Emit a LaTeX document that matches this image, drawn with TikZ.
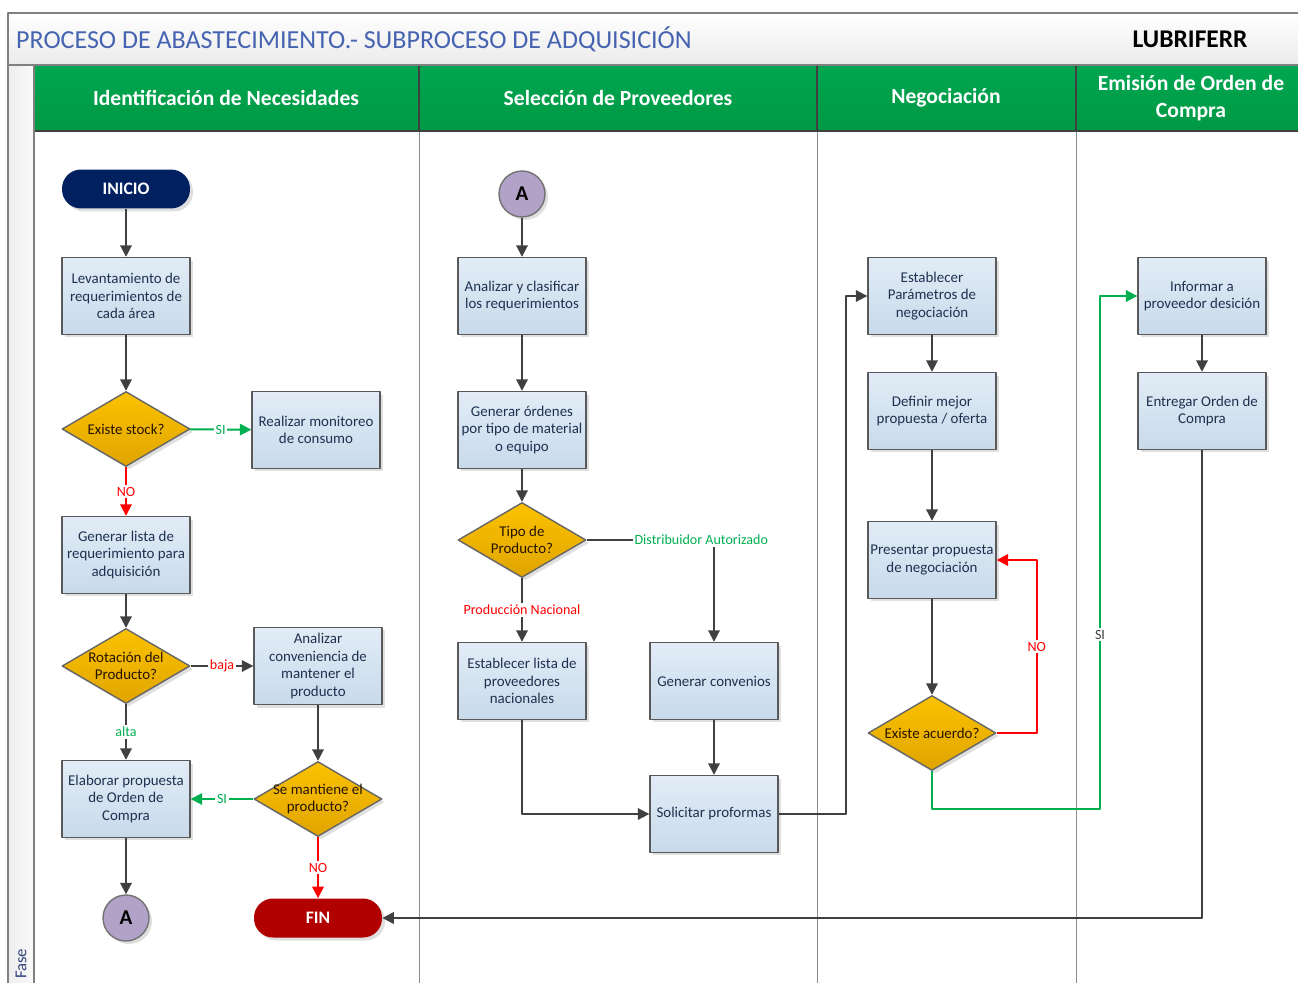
\documentclass[tikz,border=0pt]{standalone}
\usepackage{fontspec}
\setmainfont{Carlito}
\usetikzlibrary{arrows.meta,shapes.geometric,shadows}

\definecolor{verde}{HTML}{00A651}
\definecolor{verdeosc}{HTML}{009944}
\definecolor{azultit}{HTML}{4563B0}
\definecolor{cajaA}{HTML}{E2ECF6}
\definecolor{cajaB}{HTML}{C8DAEB}
\definecolor{rombA}{HTML}{FBC200}
\definecolor{rombB}{HTML}{E0A500}
\definecolor{linea}{HTML}{404040}
\definecolor{txtcaja}{HTML}{1F3150}
\definecolor{si}{HTML}{00B050}
\definecolor{no}{HTML}{FF0000}
\definecolor{inicio}{HTML}{002060}
\definecolor{fin}{HTML}{B00000}
\definecolor{conector}{HTML}{B2A2C8}

\begin{document}
\begin{tikzpicture}[x=0.02cm, y=-0.02cm, line join=round,
    >={Triangle[length=6.5pt,width=6.5pt]},
    sombra/.style={drop shadow={shadow xshift=0.06cm, shadow yshift=-0.06cm, opacity=0.25, fill=gray}},
    caja/.style={rectangle, draw=black!65, line width=0.8pt, top color=cajaA, bottom color=cajaB,
        minimum width=2.56cm, minimum height=1.54cm, inner xsep=1pt, align=center, text=txtcaja,
        font=\fontsize{8.5}{10}\selectfont, sombra},
    rtexto/.style={align=center, inner sep=0pt, text=black!85!orange, font=\fontsize{8.5}{10}\selectfont},
    rombo/.style={diamond, draw=black!60, line width=0.8pt, top color=rombA, bottom color=rombB,
        minimum width=2.56cm, minimum height=1.5cm, inner sep=0pt, sombra,
        label={[rtexto]center:{#1}}},
    term/.style={rectangle, rounded corners=0.38cm, minimum width=2.56cm, minimum height=0.78cm,
        text=white, font=\fontsize{10}{12}\bfseries\selectfont, sombra},
    circA/.style={circle, draw=black!55, line width=0.8pt, fill=conector, minimum size=0.92cm,
        font=\fontsize{12}{12}\bfseries\selectfont, sombra},
    carril/.style={text=white, align=center, font=\fontsize{12.3}{15}\bfseries\selectfont},
    flecha/.style={->, draw=linea, line width=1.1pt},
    flsi/.style={->, draw=si, line width=1.1pt},
    flno/.style={->, draw=no, line width=1.1pt},
    etq/.style={fill=white, inner sep=1pt, font=\fontsize{8}{9}\selectfont}]

    \useasboundingbox (0,0) rectangle (1298,983);

    % banda de titulo
    \shade[top color=white, bottom color=black!8] (8,13) rectangle (1298,65);
    \node[anchor=west, text=azultit, font=\fontsize{14.8}{16}\selectfont] (titulo) at (10,39)
        {PROCESO DE ABASTECIMIENTO.- SUBPROCESO DE ADQUISICIÓN};
    \node[font=\fontsize{14.5}{16}\bfseries\selectfont] (empresa) at (1190,39) {LUBRIFERR};

    % franja de fase
    \shade[left color=black!7, right color=black!2] (8,65) rectangle (34,983);
    \node[rotate=90, anchor=west, text=azultit!70!black, font=\fontsize{9.5}{10}\selectfont] (fase) at (21,985) {Fase};

    % encabezado de carriles
    \shade[top color=verde, bottom color=verdeosc] (34,65) rectangle (1298,131);
    \foreach \x in {419,817,1076} {
        \draw[black!45, line width=0.5pt] (\x,131) -- (\x,983);
        \draw[linea, line width=0.7pt] (\x,65) -- (\x,131);
    }
    \draw[linea, line width=0.7pt] (34,131) -- (1298,131);
    \draw[black!50, line width=0.9pt] (1298,13) -- (8,13) -- (8,983);
    \draw[black!50, line width=0.9pt] (8,65) -- (1298,65);
    \draw[black!50, line width=0.9pt] (34,65) -- (34,983);

    \node[carril] (c1) at (226,98) {Identificación de Necesidades};
    \node[carril] (c2) at (618,98) {Selección de Proveedores};
    \node[carril] (c3) at (946,98) {Negociación};
    \node[carril] (c4) at (1191,98) {Emisión de Orden de\\Compra};

    % carril 1
    \node[term, fill=inicio] (inicio) at (126,189) {INICIO};
    \node[caja] (levant) at (126,296) {Levantamiento de\\requerimientos de\\cada área};
    \node[rombo={Existe stock?}] (stock) at (126,429) {};
    \node[caja] (monitoreo) at (316,430) {Realizar monitoreo\\de consumo};
    \node[caja] (lista) at (126,555) {Generar lista de\\requerimiento para\\adquisición};
    \node[rombo={Rotación del\\Producto?}] (rotacion) at (126,666) {};
    \node[caja] (analizar) at (318,666) {Analizar\\conveniencia de\\mantener el\\producto};
    \node[caja] (elaborar) at (126,799) {Elaborar propuesta\\de Orden de\\Compra};
    \node[rombo={Se mantiene el\\producto?}] (mantiene) at (318,799) {};
    \node[circA] (conA) at (126,918) {A};
    \node[term, fill=fin] (fin) at (318,918) {FIN};

    % carril 2
    \node[circA] (conA2) at (522,194) {A};
    \node[caja] (clasificar) at (522,296) {Analizar y clasificar\\los requerimientos};
    \node[caja] (ordenes) at (522,430) {Generar órdenes\\por tipo de material\\o equipo};
    \node[rombo={Tipo de\\Producto?}] (tipo) at (522,540) {};
    \node[caja] (nacional) at (522,681) {Establecer lista de\\proveedores\\nacionales};
    \node[caja] (convenios) at (714,681) {Generar convenios};
    \node[caja] (proformas) at (714,814) {Solicitar proformas};

    % carril 3
    \node[caja] (parametros) at (932,296) {Establecer\\Parámetros de\\negociación};
    \node[caja] (definir) at (932,411) {Definir mejor\\propuesta / oferta};
    \node[caja] (presentar) at (932,560) {Presentar propuesta\\de negociación};
    \node[rombo={Existe acuerdo?}] (acuerdo) at (932,733) {};

    % carril 4
    \node[caja] (informar) at (1202,296) {Informar a\\proveedor desición};
    \node[caja] (entregar) at (1202,411) {Entregar Orden de\\Compra};

    % conectores
    \draw[flecha] (inicio) -- (levant);
    \draw[flecha] (levant) -- (stock);
    \draw[flsi] (stock) -- node[etq, text=si] {SI} (monitoreo);
    \draw[flno] (stock) -- node[etq, text=no] {NO} (lista);
    \draw[flecha] (lista) -- (rotacion);
    \draw[flecha] (rotacion) -- node[etq, text=no] {baja} (analizar);
    \draw[flecha] (rotacion) -- node[etq, text=si] {alta} (elaborar);
    \draw[flecha] (analizar) -- (mantiene);
    \draw[flsi] (mantiene) -- node[etq, text=si] {SI} (elaborar);
    \draw[flno] (mantiene) -- node[etq, text=no] {NO} (fin);
    \draw[flecha] (elaborar) -- (conA);

    \draw[flecha] (conA2) -- (clasificar);
    \draw[flecha] (clasificar) -- (ordenes);
    \draw[flecha] (ordenes) -- (tipo);
    \draw[flecha] (tipo) -- node[etq, text=no] {Producción Nacional} (nacional);
    \draw[flecha] (tipo.east) -| node[etq, text=si, pos=0.45] {Distribuidor Autorizado} (convenios);
    \draw[flecha] (convenios) -- (proformas);
    \draw[flecha] (nacional) |- (proformas);
    \draw[flecha] (proformas.east) -- ++(67,0) |- (parametros.west);

    \draw[flecha] (parametros) -- (definir);
    \draw[flecha] (definir) -- (presentar);
    \draw[flecha] (presentar) -- (acuerdo);
    \draw[flno] (acuerdo.east) -- ++(40,0) |- node[etq, text=no, pos=0.25] {NO} (presentar.east);
    \draw[flsi] (acuerdo.south) -- ++(0,38) -- ++(168,0) |- node[etq, text=linea, pos=0.17] {SI} (informar.west);

    \draw[flecha] (informar) -- (entregar);
    \draw[flecha] (entregar) |- (fin);
\end{tikzpicture}
\end{document}
